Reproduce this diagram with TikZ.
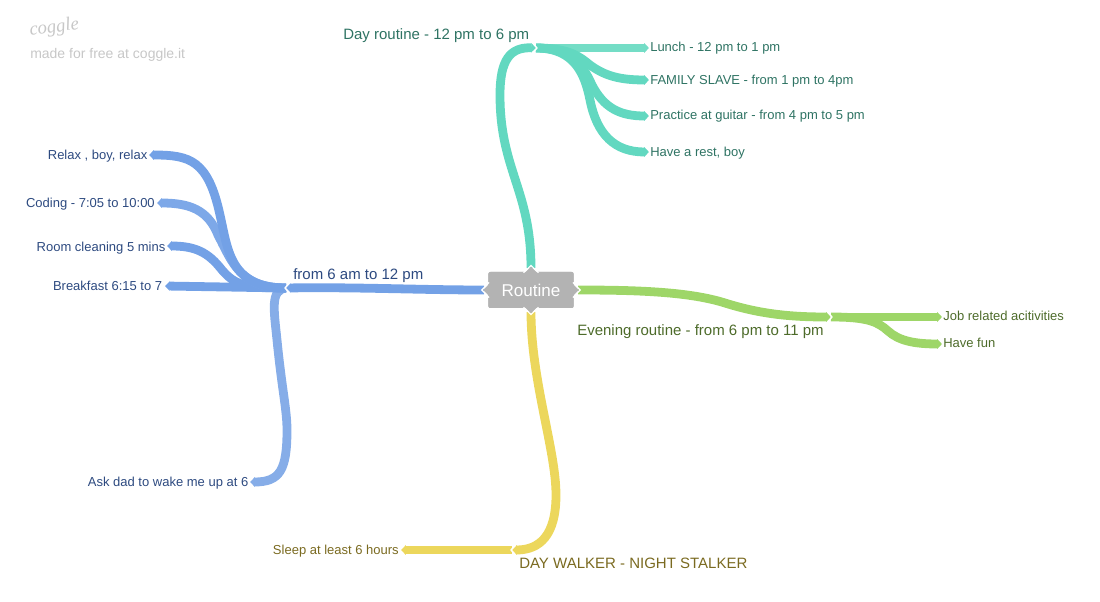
\documentclass[tikz,border=0pt]{standalone}
\usepackage{fontspec}
\setmainfont{Liberation Sans}
\newfontfamily\logofont{Liberation Serif}
\usetikzlibrary{arrows.meta}
\definecolor{tealA}{HTML}{62D8C0}
\definecolor{tealB}{HTML}{74DDC6}
\definecolor{tealT}{HTML}{2E7363}
\definecolor{blueA}{HTML}{73A1E6}
\definecolor{blueB}{HTML}{86ADE8}
\definecolor{blueC}{HTML}{7DA8E8}
\definecolor{blueT}{HTML}{2D4A80}
\definecolor{greenA}{HTML}{9ED668}
\definecolor{greenT}{HTML}{4D6B2A}
\definecolor{yellowA}{HTML}{ECD75C}
\definecolor{yellowT}{HTML}{7A6A20}
\definecolor{rootgray}{HTML}{B3B3B3}
\tikzset{
  conn/.style={line width=6.6pt,-{Triangle[length=3.6pt,width=7pt]}},
  lbl/.style={inner sep=0pt,font=\fontsize{9.75pt}{11pt}\selectfont},
  biglbl/.style={inner sep=0pt,font=\fontsize{11.25pt}{13pt}\selectfont},
  rootbox/.style={fill=rootgray,rounded corners=1.5pt,minimum width=64pt,minimum height=27pt,inner sep=0pt,text=white,font=\fontsize{12.8pt}{15pt}\selectfont},
  chev/.pic={\draw[white,line width=1pt,miter limit=10] (-5,-7)--(1,0)--(-5,7);},
  knob/.pic={\fill[rootgray] (-1,-6)--(5,0)--(-1,6)--cycle;
             \draw[white,line width=0.9pt] (-1,-7.5)--(6.3,0)--(-1,7.5);}
}
\begin{document}
\begin{tikzpicture}[x=0.75pt,y=-0.75pt]
\useasboundingbox (0,0) rectangle (1100,602);
% root
\node[rootbox] (root) at (531,290) {Routine};
% anchors of the connectors
\coordinate (rT) at (531,268); \coordinate (rB) at (531,312);
\coordinate (rL) at (484,290); \coordinate (rR) at (578,290);
\coordinate (hubTeal) at (536,48); \coordinate (hubBlue) at (286,288);
\coordinate (hubGreen) at (831,317); \coordinate (hubYellow) at (512,550);
\coordinate (eLunch) at (649,48); \coordinate (eFamily) at (649,80);
\coordinate (ePractice) at (649,116); \coordinate (eRest) at (649,152);
\coordinate (eRelax) at (149,155); \coordinate (eCoding) at (157,203);
\coordinate (eRoom) at (167,246); \coordinate (eBreak) at (165,286);
\coordinate (eAsk) at (250,482); \coordinate (eSleep) at (401,550);
\coordinate (eJob) at (942,317); \coordinate (eFun) at (942,344);
% yellow
\draw[conn,yellowA] (hubYellow) -- (eSleep);
\draw[conn,yellowA] (rB) .. controls (531,380) and (556,450) .. (556,495) .. controls (556,535) and (540,550) .. (hubYellow);
\pic[rotate=180] at (hubYellow) {chev};
% green
\draw[conn,greenA] (hubGreen) .. controls (868,317) and (878,322) .. (888,331) .. controls (899,341) and (915,344) .. (eFun);
\draw[conn,greenA] (hubGreen) -- (eJob);
\draw[conn,greenA] (rR) .. controls (640,290) and (690,292) .. (725,303) .. controls (760,314) and (790,317) .. (hubGreen);
\pic at (hubGreen) {chev};
% teal
\draw[conn,tealB] (hubTeal) -- (eLunch);
\draw[conn,tealA] (hubTeal) .. controls (570,48) and (580,57) .. (590,65) .. controls (605,76) and (620,80) .. (eFamily);
\draw[conn,tealA] (hubTeal) .. controls (575,48) and (585,70) .. (592,85) .. controls (604,108) and (620,116) .. (ePractice);
\draw[conn,tealA] (hubTeal) .. controls (575,48) and (585,75) .. (590,100) .. controls (597,135) and (615,152) .. (eRest);
\draw[conn,tealA] (rT) .. controls (531,190) and (500,170) .. (500,95) .. controls (500,60) and (510,47) .. (hubTeal);
\pic at (hubTeal) {chev};
% blue
\draw[conn,blueB] (hubBlue) .. controls (270,290) and (274,310) .. (277,340) .. controls (282,390) and (287,410) .. (287,430) .. controls (287,470) and (280,482) .. (eAsk);
\draw[conn,blueA] (hubBlue) -- (eBreak);
\draw[conn,blueA] (hubBlue) .. controls (245,288) and (235,285) .. (222,270) .. controls (208,252) and (195,246) .. (eRoom);
\draw[conn,blueC] (hubBlue) .. controls (240,288) and (232,262) .. (218,235) .. controls (208,210) and (190,203) .. (eCoding);
\draw[conn,blueA] (hubBlue) .. controls (230,288) and (228,250) .. (220,215) .. controls (208,160) and (190,155) .. (eRelax);
\draw[conn,blueA] (rL) .. controls (420,290) and (360,287) .. (hubBlue);
\pic[rotate=180] at (hubBlue) {chev};
% root on top
\node[rootbox] at (root) {Routine};
\pic[rotate=90] at (root.north) {knob};
\pic[rotate=-90] at (root.south) {knob};
\pic[rotate=180] at (root.west) {knob};
\pic at (root.east) {knob};
% labels
\node[biglbl,text=tealT,anchor=base west] (tDay) at (343,40) {Day routine - 12 pm to 6 pm};
\node[lbl,text=tealT,anchor=base west] (tLunch) at (650,52) {Lunch - 12 pm to 1 pm};
\node[lbl,text=tealT,anchor=base west] (tFamily) at (650,85) {FAMILY SLAVE - from 1 pm to 4pm};
\node[lbl,text=tealT,anchor=base west] (tPractice) at (650,120) {Practice at guitar - from 4 pm to 5 pm};
\node[lbl,text=tealT,anchor=base west] (tRest) at (650,157) {Have a rest, boy};
\node[biglbl,text=blueT,anchor=base west] (tMorning) at (293,280) {from 6 am to 12 pm};
\node[lbl,text=blueT,anchor=base east] (tRelax) at (147.6,160) {Relax , boy, relax};
\node[lbl,text=blueT,anchor=base east] (tCoding) at (155,208) {Coding - 7:05 to 10:00};
\node[lbl,text=blueT,anchor=base east] (tRoom) at (165.6,252) {Room cleaning 5 mins};
\node[lbl,text=blueT,anchor=base east] (tBreak) at (162.4,291) {Breakfast 6:15 to 7};
\node[lbl,text=blueT,anchor=base east] (tAsk) at (248.6,486) {Ask dad to wake me up at 6};
\node[biglbl,text=greenT,anchor=base west] (tEvening) at (577,335) {Evening routine - from 6 pm to 11 pm};
\node[lbl,text=greenT,anchor=base west] (tJob) at (943,321) {Job related acitivities};
\node[lbl,text=greenT,anchor=base west] (tFun) at (943,348) {Have fun};
\node[biglbl,text=yellowT,anchor=base west] (tWalker) at (519,568) {DAY WALKER - NIGHT STALKER};
\node[lbl,text=yellowT,anchor=base east] (tSleep) at (399,554) {Sleep at least 6 hours};
% watermark
\node[inner sep=0pt,text=black!22,anchor=base west,rotate=8,font=\logofont\itshape\fontsize{14pt}{18pt}\selectfont] (logo) at (30,36) {coggle};
\node[inner sep=0pt,text=black!22,anchor=base west,font=\fontsize{10.5pt}{13pt}\selectfont] (made) at (30,58.5) {made for free at coggle.it};
\end{tikzpicture}
\end{document}
